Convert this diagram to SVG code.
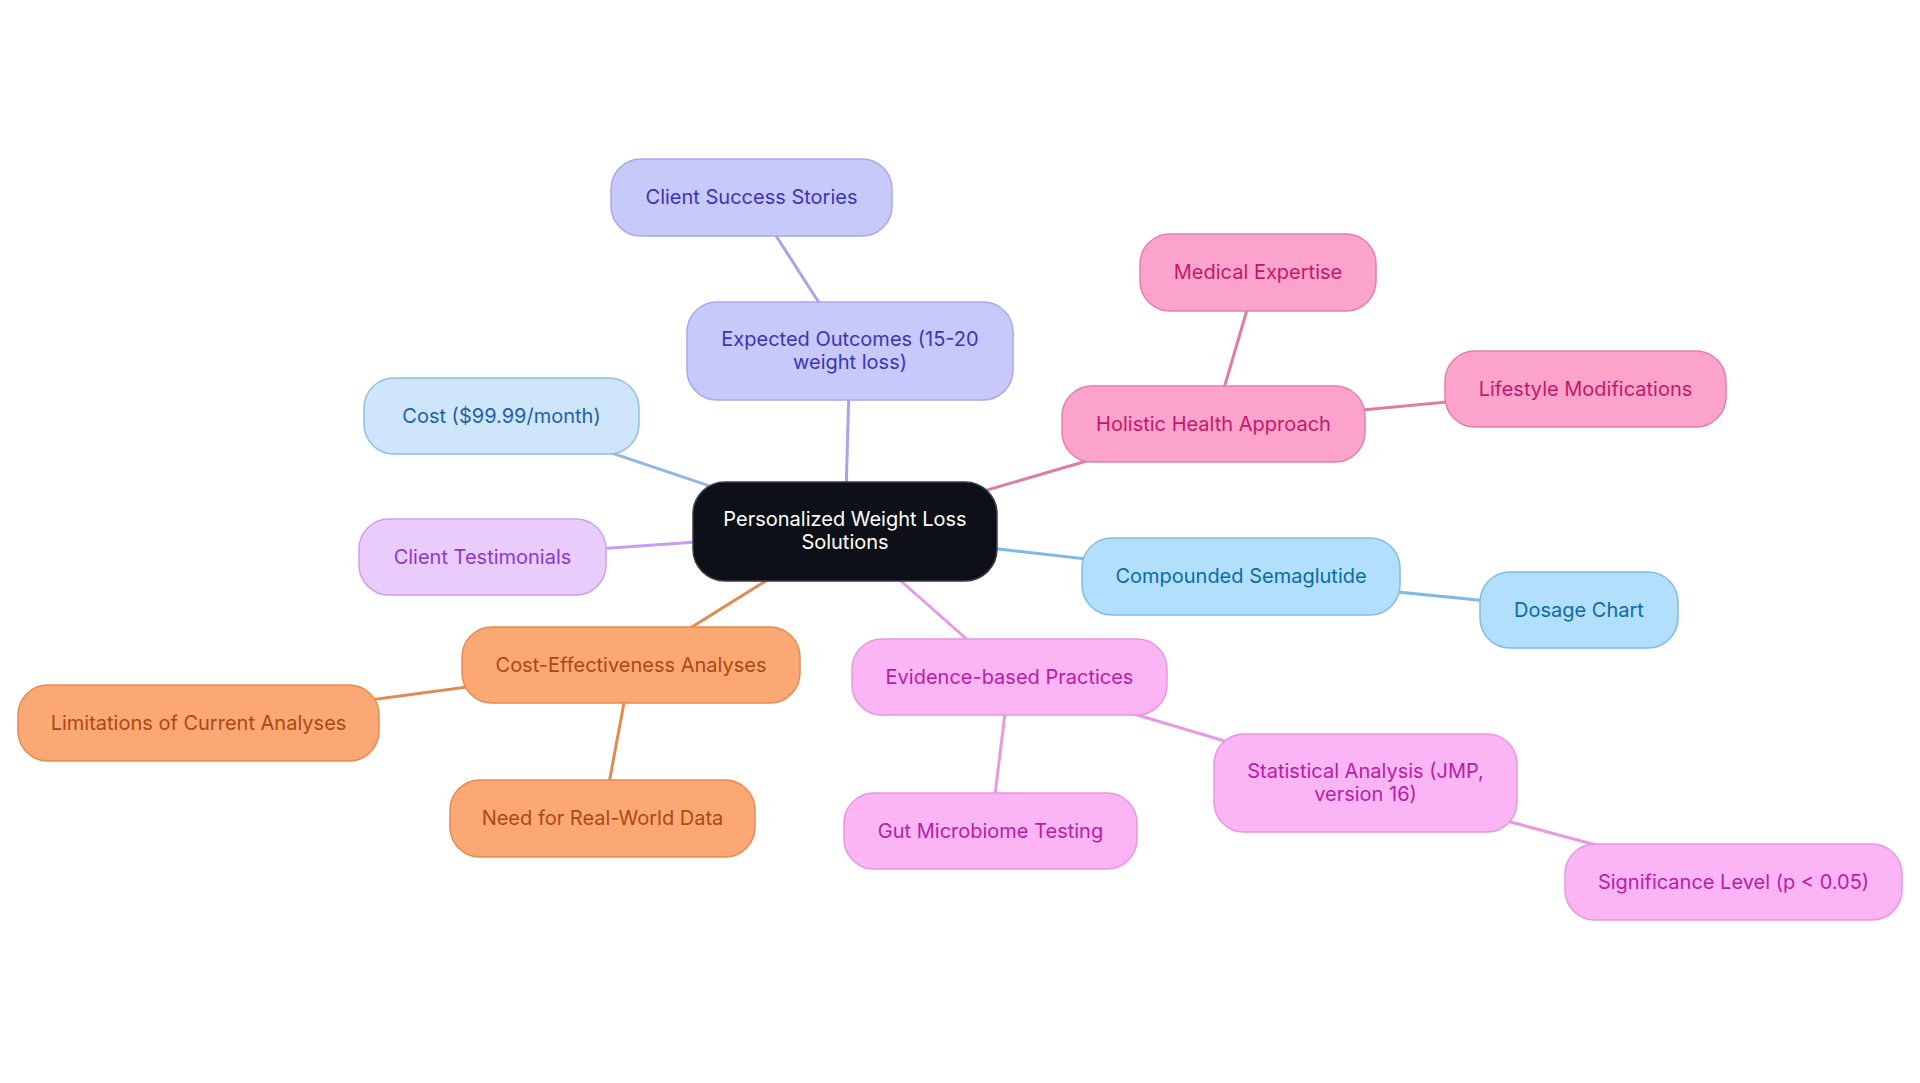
<svg xmlns="http://www.w3.org/2000/svg" width="1920" height="1083" viewBox="0 0 1920 1083">
<style>
text{font-family:Inter,"Noto Sans","Liberation Sans",sans-serif;font-size:20px;text-anchor:middle}
.e{stroke-width:3;fill:none;stroke-linecap:round}
.n rect{stroke-width:1.5}
.root rect{fill:#0d1117;stroke:#3a3d44}
.root text{fill:#ffffff}
.lav rect{fill:#c8c9fb;stroke:#a6a8ee}.lav text{fill:#3b35b3}
.sky rect{fill:#cfe5fc;stroke:#93bde9}.sky text{fill:#1f5fa6}
.vio rect{fill:#e9cbfc;stroke:#c9a0ef}.vio text{fill:#8b3acc}
.pnk rect{fill:#fba3cb;stroke:#e47fab}.pnk text{fill:#c2186b}
.blu rect{fill:#b1dffc;stroke:#80bce8}.blu text{fill:#0e6aa5}
.org rect{fill:#fba874;stroke:#e68a52}.org text{fill:#a94a14}
.mag rect{fill:#fbb4f4;stroke:#e896e0}.mag text{fill:#b620a6}
</style>
<rect width="1920" height="1083" fill="#ffffff"/>
<g id="connectors">
<line class="e" stroke="#a3a6ee" x1="845" y1="531.5" x2="850" y2="351"/>
<line class="e" stroke="#a3a6ee" x1="850" y1="351" x2="751.5" y2="197.5"/>
<line class="e" stroke="#8fb8e4" x1="845" y1="531.5" x2="501.5" y2="416"/>
<line class="e" stroke="#c89af0" x1="845" y1="531.5" x2="482.5" y2="557"/>
<line class="e" stroke="#e07ca4" x1="845" y1="531.5" x2="1213.5" y2="424"/>
<line class="e" stroke="#e07ca4" x1="1213.5" y1="424" x2="1258" y2="272.5"/>
<line class="e" stroke="#e07ca4" x1="1213.5" y1="424" x2="1585.5" y2="389"/>
<line class="e" stroke="#7db9e6" x1="845" y1="531.5" x2="1241" y2="576.5"/>
<line class="e" stroke="#7db9e6" x1="1241" y1="576.5" x2="1579" y2="610"/>
<line class="e" stroke="#e08a50" x1="845" y1="531.5" x2="631" y2="665"/>
<line class="e" stroke="#e08a50" x1="631" y1="665" x2="198.5" y2="723"/>
<line class="e" stroke="#e08a50" x1="631" y1="665" x2="602.5" y2="818.5"/>
<line class="e" stroke="#e89ae0" x1="845" y1="531.5" x2="1009.5" y2="677"/>
<line class="e" stroke="#e89ae0" x1="1009.5" y1="677" x2="990.5" y2="831"/>
<line class="e" stroke="#e89ae0" x1="1009.5" y1="677" x2="1365.5" y2="783"/>
<line class="e" stroke="#e89ae0" x1="1365.5" y1="783" x2="1733.5" y2="882"/>
</g>
<g id="root" class="n root"><rect x="693" y="482" width="304" height="99" rx="32"/><text x="845" y="526">Personalized Weight Loss</text><text x="845" y="549">Solutions</text></g>
<g id="client-success" class="n lav"><rect x="611" y="159" width="281" height="77" rx="30"/><text x="751.5" y="204">Client Success Stories</text></g>
<g id="expected-outcomes" class="n lav"><rect x="687" y="302" width="326" height="98" rx="30"/><text x="850" y="346">Expected Outcomes (15-20</text><text x="850" y="369">weight loss)</text></g>
<g id="cost" class="n sky"><rect x="364" y="378" width="275" height="76" rx="30"/><text x="501.5" y="422.5">Cost ($99.99/month)</text></g>
<g id="testimonials" class="n vio"><rect x="359" y="519" width="247" height="76" rx="30"/><text x="482.5" y="563.5">Client Testimonials</text></g>
<g id="medical" class="n pnk"><rect x="1140" y="234" width="236" height="77" rx="30"/><text x="1258" y="279">Medical Expertise</text></g>
<g id="holistic" class="n pnk"><rect x="1062" y="386" width="303" height="76" rx="30"/><text x="1213.5" y="430.5">Holistic Health Approach</text></g>
<g id="lifestyle" class="n pnk"><rect x="1445" y="351" width="281" height="76" rx="30"/><text x="1585.5" y="395.5">Lifestyle Modifications</text></g>
<g id="compounded" class="n blu"><rect x="1082" y="538" width="318" height="77" rx="30"/><text x="1241" y="583">Compounded Semaglutide</text></g>
<g id="dosage" class="n blu"><rect x="1480" y="572" width="198" height="76" rx="30"/><text x="1579" y="616.5">Dosage Chart</text></g>
<g id="cost-effectiveness" class="n org"><rect x="462" y="627" width="338" height="76" rx="30"/><text x="631" y="671.5">Cost-Effectiveness Analyses</text></g>
<g id="limitations" class="n org"><rect x="18" y="685" width="361" height="76" rx="30"/><text x="198.5" y="729.5">Limitations of Current Analyses</text></g>
<g id="real-world" class="n org"><rect x="450" y="780" width="305" height="77" rx="30"/><text x="602.5" y="825">Need for Real-World Data</text></g>
<g id="evidence" class="n mag"><rect x="852" y="639" width="315" height="76" rx="30"/><text x="1009.5" y="683.5">Evidence-based Practices</text></g>
<g id="gut" class="n mag"><rect x="844" y="793" width="293" height="76" rx="30"/><text x="990.5" y="837.5">Gut Microbiome Testing</text></g>
<g id="statistical" class="n mag"><rect x="1214" y="734" width="303" height="98" rx="30"/><text x="1365.5" y="778">Statistical Analysis (JMP,</text><text x="1365.5" y="801">version 16)</text></g>
<g id="significance" class="n mag"><rect x="1565" y="844" width="337" height="76" rx="30"/><text x="1733.5" y="888.5">Significance Level (p &lt; 0.05)</text></g>
</svg>
